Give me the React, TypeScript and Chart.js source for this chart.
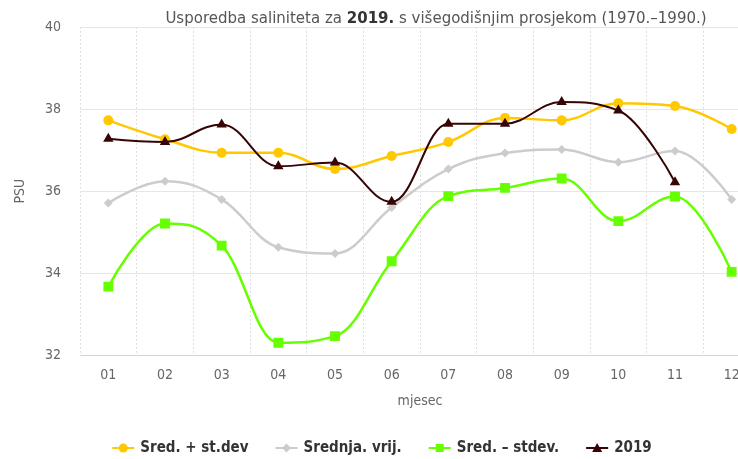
import React, { useEffect, useRef } from "react";
import { Chart, registerables } from "chart.js";

Chart.register(...registerables);

const months = ["01", "02", "03", "04", "05", "06", "07", "08", "09", "10", "11", "12"];
const sredPlus = [37.73, 37.27, 36.94, 36.94, 36.54, 36.86, 37.2, 37.79, 37.73, 38.15, 38.08, 37.52];
const srednja = [35.71, 36.24, 35.8, 34.63, 34.48, 35.6, 36.54, 36.93, 37.02, 36.71, 36.98, 35.8];
const sredMinus = [33.67, 35.21, 34.67, 32.3, 32.46, 34.29, 35.88, 36.08, 36.31, 35.27, 35.87, 34.03];
const year2019 = [37.28, 37.2, 37.63, 36.61, 36.7, 35.74, 37.65, 37.65, 38.18, 37.97, 36.22, null];
const yTicks = [32, 34, 36, 38, 40];

const seriesNames = ["Sred. + st.dev", "Srednja. vrij.", "Sred. – stdev.", "2019"];
const seriesColors = ["#FFC800", "#CCCCCC", "#66FF00", "#360404"];
const seriesStyles = ["circle", "rectRot", "rect", "triangle"];
const seriesRadius = [5, 4.5, 7, 6];
const seriesWidth = [2.5, 2.5, 2.5, 2];

const titleParts = [
  { text: "Usporedba saliniteta za ", bold: false },
  { text: "2019.", bold: true },
  { text: " s višegodišnjim prosjekom (1970.–1990.)", bold: false },
];

const FONT = "'DejaVu Sans Condensed', 'DejaVu Sans', sans-serif";
const TITLE_FONT = "'DejaVu Sans', sans-serif";

// Highcharts-style spline control points (no overshoot beyond neighbours)
const splinePlugin = {
  id: "hcSpline",
  beforeDatasetDraw(chart: any, args: any) {
    const meta = args.meta;
    const line = meta.dataset;
    const pts = meta.data;
    if (!line || !pts) return;
    const smoothing = 1.5;
    const denom = smoothing + 1;
    const valid = (p: any) => p && !p.skip && isFinite(p.x) && isFinite(p.y);
    for (let i = 0; i < pts.length; i++) {
      const p = pts[i];
      if (!valid(p)) continue;
      const last = pts[i - 1];
      const next = pts[i + 1];
      let lcx = p.x, lcy = p.y, rcx = p.x, rcy = p.y;
      if (valid(last) && valid(next)) {
        lcx = (smoothing * p.x + last.x) / denom;
        lcy = (smoothing * p.y + last.y) / denom;
        rcx = (smoothing * p.x + next.x) / denom;
        rcy = (smoothing * p.y + next.y) / denom;
        let correction = 0;
        if (rcx !== lcx) {
          correction = ((rcy - lcy) * (rcx - p.x)) / (rcx - lcx) + p.y - rcy;
        }
        lcy += correction;
        rcy += correction;
        if (lcy > last.y && lcy > p.y) {
          lcy = Math.max(last.y, p.y);
          rcy = 2 * p.y - lcy;
        } else if (lcy < last.y && lcy < p.y) {
          lcy = Math.min(last.y, p.y);
          rcy = 2 * p.y - lcy;
        }
        if (rcy > next.y && rcy > p.y) {
          rcy = Math.max(next.y, p.y);
          lcy = 2 * p.y - rcy;
        } else if (rcy < next.y && rcy < p.y) {
          rcy = Math.min(next.y, p.y);
          lcy = 2 * p.y - rcy;
        }
      }
      p.cp1x = lcx;
      p.cp1y = lcy;
      p.cp2x = rcx;
      p.cp2y = rcy;
    }
    line._pointsUpdated = true;
    line._path = undefined;
  },
};

const titlePlugin = {
  id: "customTitle",
  afterDraw(chart: any) {
    const ctx = chart.ctx;
    ctx.save();
    ctx.textBaseline = "middle";
    const fonts = titleParts.map((p) => `${p.bold ? "bold " : ""}15px ${TITLE_FONT}`);
    let total = 0;
    const widths = titleParts.map((p, i) => {
      ctx.font = fonts[i];
      const w = ctx.measureText(p.text).width;
      total += w;
      return w;
    });
    let x = 436 - total / 2;
    const y = 19;
    titleParts.forEach((p, i) => {
      ctx.font = fonts[i];
      ctx.fillStyle = p.bold ? "#333333" : "#555555";
      ctx.textAlign = "left";
      ctx.fillText(p.text, x, y);
      x += widths[i];
    });
    ctx.restore();
  },
};

const legendPlugin = {
  id: "customLegend",
  afterDraw(chart: any) {
    const ctx = chart.ctx;
    ctx.save();
    ctx.font = `bold 15px ${FONT}`;
    ctx.textBaseline = "middle";
    const symW = 22;
    const gap = 6;
    const itemGap = 27;
    const widths = seriesNames.map((n) => ctx.measureText(n).width);
    const total = widths.reduce((a, w) => a + symW + gap + w, 0) + itemGap * (seriesNames.length - 1);
    let x = 382 - total / 2;
    const y = 448;
    seriesNames.forEach((name, i) => {
      const color = seriesColors[i];
      ctx.strokeStyle = color;
      ctx.lineWidth = 2;
      ctx.beginPath();
      ctx.moveTo(x, y);
      ctx.lineTo(x + symW, y);
      ctx.stroke();
      ctx.fillStyle = color;
      const cx = x + symW / 2;
      const r = 4.5;
      ctx.beginPath();
      if (seriesStyles[i] === "circle") {
        ctx.arc(cx, y, r, 0, Math.PI * 2);
      } else if (seriesStyles[i] === "rectRot") {
        ctx.moveTo(cx - r, y);
        ctx.lineTo(cx, y - r);
        ctx.lineTo(cx + r, y);
        ctx.lineTo(cx, y + r);
        ctx.closePath();
      } else if (seriesStyles[i] === "rect") {
        ctx.rect(cx - 4, y - 4, 8, 8);
      } else {
        ctx.moveTo(cx, y - 5);
        ctx.lineTo(cx + 5, y + 4);
        ctx.lineTo(cx - 5, y + 4);
        ctx.closePath();
      }
      ctx.fill();
      ctx.fillStyle = "#333333";
      ctx.textAlign = "left";
      ctx.fillText(name, x + symW + gap, y);
      x += symW + gap + widths[i] + itemGap;
    });
    ctx.restore();
  },
};

export default function App() {
  const canvasRef = useRef<HTMLCanvasElement | null>(null);

  useEffect(() => {
    const canvas = canvasRef.current;
    if (!canvas) return;
    const allSeries = [sredPlus, srednja, sredMinus, year2019];
    const chart = new Chart(canvas, {
      type: "line",
      data: {
        labels: months,
        datasets: allSeries.map((data, i) => ({
          label: seriesNames[i],
          data,
          borderColor: seriesColors[i],
          backgroundColor: seriesColors[i],
          pointBackgroundColor: seriesColors[i],
          pointBorderColor: seriesColors[i],
          pointBorderWidth: 0,
          pointStyle: seriesStyles[i] as any,
          pointRadius: seriesRadius[i],
          pointHoverRadius: seriesRadius[i],
          borderWidth: seriesWidth[i],
          tension: 0.4,
          fill: false,
          order: 3 - i,
        })),
      },
      options: {
        responsive: false,
        animation: false,
        layout: { padding: { left: 0, top: 27, right: 112, bottom: 40 } },
        plugins: {
          legend: { display: false },
          title: { display: false },
          tooltip: { enabled: false },
        },
        scales: {
          x: {
            type: "category",
            offset: true,
            grid: { display: true, offset: true, color: "#C0C0C0", lineWidth: 1, drawTicks: false },
            border: { display: true, color: "#CCD6EB", width: 1, dash: [1, 3] },
            ticks: {
              color: "#666666",
              font: { family: FONT, size: 14 },
              padding: 12,
              maxRotation: 0,
              autoSkip: false,
            },
            title: {
              display: true,
              text: "mjesec",
              color: "#666666",
              font: { family: FONT, size: 14 },
              padding: { top: 0, bottom: 9 },
            },
            afterFit: (scale: any) => {
              scale.height = 64;
            },
          },
          y: {
            min: 32,
            max: 40,
            afterBuildTicks: (scale: any) => {
              scale.ticks = yTicks.map((v) => ({ value: v }));
            },
            grid: { color: "#E6E6E6", lineWidth: 1, drawTicks: false },
            border: { display: false },
            ticks: {
              color: "#666666",
              font: { family: FONT, size: 14 },
              padding: 19,
            },
            title: {
              display: true,
              text: "PSU",
              color: "#666666",
              font: { family: FONT, size: 14 },
              padding: { top: 12, bottom: 0 },
            },
            afterFit: (scale: any) => {
              scale.width = 80;
            },
          },
        },
      },
      plugins: [splinePlugin, titlePlugin, legendPlugin],
    });
    return () => chart.destroy();
  }, []);

  return (
    <div
      style={{
        position: "fixed",
        left: 0,
        top: 0,
        width: 738,
        height: 459,
        overflow: "hidden",
        background: "#ffffff",
      }}
    >
      <canvas ref={canvasRef} width={872} height={459} style={{ display: "block" }} />
    </div>
  );
}
